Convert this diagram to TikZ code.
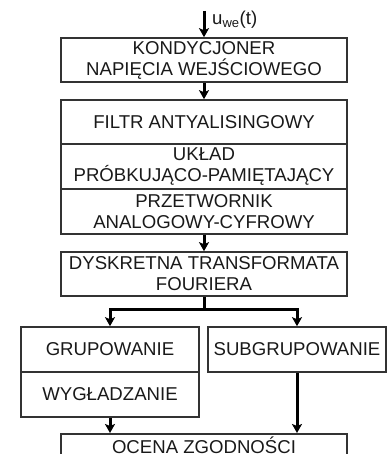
\documentclass[tikz,border=0pt]{standalone}
\usepackage{fontspec}
\setmainfont{Liberation Sans}
\usetikzlibrary{arrows.meta}
\begin{document}
\begin{tikzpicture}[x=1pt,y=-1pt,
  box/.style={draw=black!80,line width=1.6pt,rectangle,inner sep=0pt,
    align=center,font=\fontsize{18.6}{21}\selectfont,text=black!90},
  wide/.style={box,minimum width=286pt,minimum height=44pt},
  half/.style={box,minimum width=178pt,minimum height=45pt},
  arr/.style={line width=3pt,-{Stealth[length=9pt,width=10pt,inset=2pt]}},
  wire/.style={line width=3pt}]
\useasboundingbox (0,0) rectangle (387,454);
\clip (0,0) rectangle (387,454);
\node[wide] (K) at (204,60) {KONDYCJONER\\NAPIĘCIA WEJŚCIOWEGO};
\node[wide] (F) at (204,122) {FILTR ANTYALISINGOWY};
\node[wide,minimum height=45pt] (U) at (204,166.5) {UKŁAD\\PRÓBKUJĄCO-PAMIĘTAJĄCY};
\node[wide,minimum height=45pt] (P) at (204,211.5) {PRZETWORNIK\\ANALOGOWY-CYFROWY};
\node[wide] (D) at (204,274) {DYSKRETNA TRANSFORMATA\\FOURIERA};
\node[half] (G) at (110,349.5) {GRUPOWANIE};
\node[half] (W) at (110,394.5) {WYGŁADZANIE};
\node[half] (S) at (297,349.5) {SUBGRUPOWANIE};
\node[wide,anchor=north] (O) at (204,433) {OCENA ZGODNOŚCI\\\phantom{X}};
\coordinate (in) at (204,11);
\coordinate (split) at (204,309);
\draw[arr] (in) -- (K.north);
\node[anchor=base west,inner sep=0pt,font=\fontsize{18.6}{21}\selectfont,text=black!90]
  (lbl) at (212,25) {u\textsubscript{we}(t)};
\draw[arr] (K.south) -- (F.north);
\draw[arr] (P.south) -- (D.north);
\draw[wire] (D.south) -- (split);
\draw[arr] (split) -| (G.north);
\draw[arr] (split) -| (S.north);
\draw[arr] (W.south) -- (W.south |- O.north);
\draw[arr] (S.south) -- (S.south |- O.north);
\end{tikzpicture}
\end{document}
